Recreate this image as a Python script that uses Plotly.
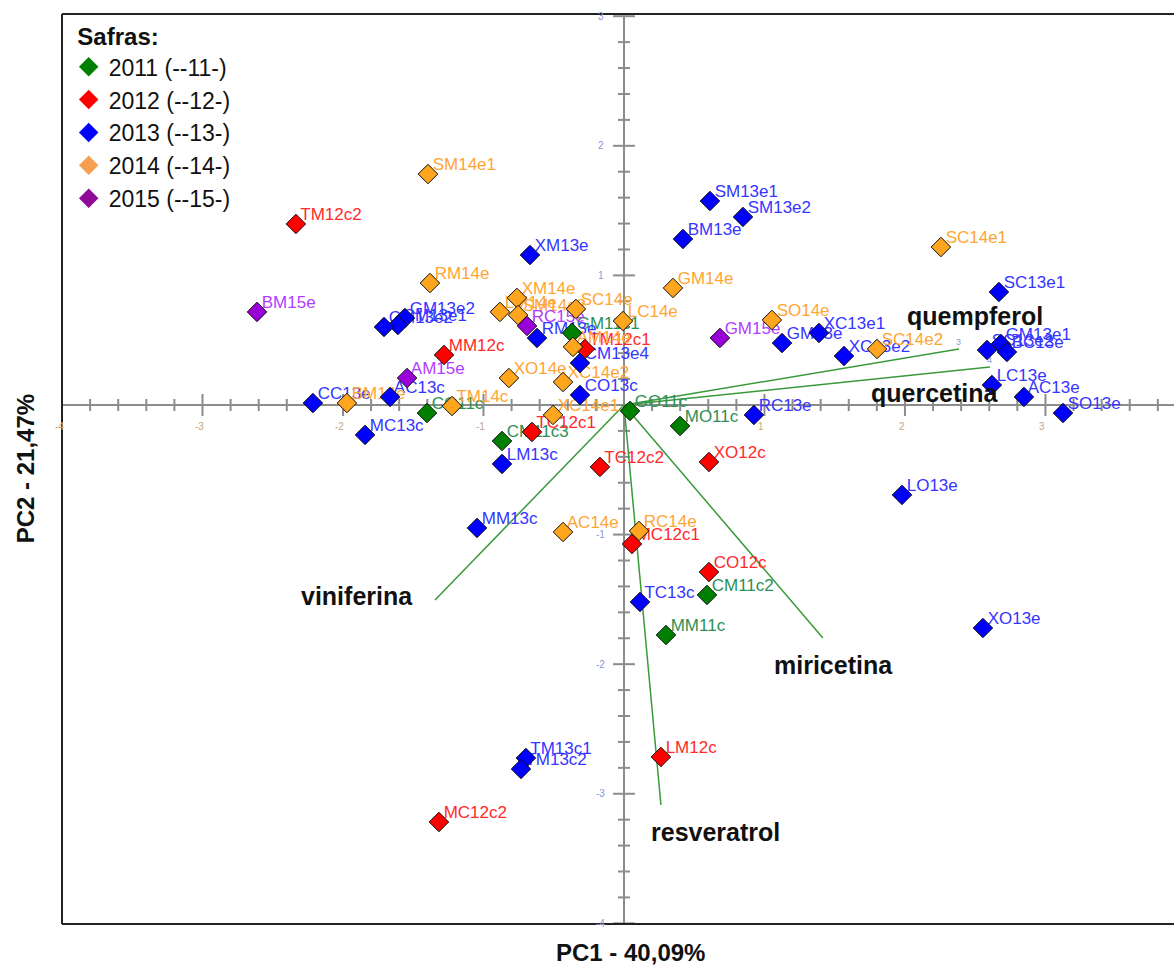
import plotly.graph_objects as go

# ---- PCA scores per vintage ----
names_2011 = ["GM11c1", "CG11c", "CM11c3", "GO11c", "MO11c", "CM11c2", "MM11c"]
pc1_2011 = [-0.370, -1.402, -0.868, 0.043, 0.399, 0.591, 0.299]
pc2_2011 = [0.556, -0.062, -0.278, -0.046, -0.162, -1.466, -1.775]

names_2012 = ["TM12c2", "MM12c", "TM12c1", "TC12c1", "TC12c2", "XO12c",
              "MC12c1", "CO12c", "LM12c", "MC12c2"]
pc1_2012 = [-2.335, -1.281, -0.278, -0.655, -0.171, 0.605, 0.057, 0.605, 0.263, -1.317]
pc2_2012 = [1.397, 0.386, 0.432, -0.208, -0.478, -0.440, -1.073, -1.289, -2.716, -3.218]

names_2013 = ["SM13e1", "SM13e2", "BM13e", "XM13e", "SC13e1", "GM13e2", "CM13e1",
              "CM13e2", "RM13e", "CM13e4", "CO13c", "AC13c", "CC13e", "MC13c",
              "LM13c", "MM13c", "TC13c", "TM13c1", "TM13c2", "RC13e", "GM13e",
              "XC13e1", "XC13e2", "SC13e2", "GM13e1", "BC13e", "LC13e", "AC13e",
              "SO13e", "LO13e", "XO13e"]
pc1_2013 = [0.612, 0.847, 0.420, -0.669, 2.669, -1.559, -1.609, -1.708, -0.619,
            -0.313, -0.313, -1.665, -2.214, -1.843, -0.868, -1.046, 0.114, -0.698,
            -0.733, 0.925, 1.125, 1.388, 1.566, 2.584, 2.683, 2.726, 2.619, 2.847,
            3.125, 1.979, 2.555]
pc2_2013 = [1.574, 1.451, 1.281, 1.157, 0.872, 0.671, 0.617, 0.602, 0.517, 0.324,
            0.077, 0.062, 0.015, -0.231, -0.455, -0.949, -1.520, -2.724, -2.809,
            -0.077, 0.478, 0.556, 0.378, 0.424, 0.471, 0.409, 0.154, 0.062, -0.062,
            -0.694, -1.721]

names_2014 = ["SM14e1", "RM14e", "GM14e", "SC14e1", "XM14e", "LM14e", "SM14e2",
              "SC14e", "LC14e", "SO14e", "SC14e2", "AM14e", "XO14e", "XC14e2",
              "XC14e1", "TM14c", "BM14e", "AC14e", "RC14e"]
pc1_2014 = [-1.395, -1.381, 0.349, 2.256, -0.762, -0.883, -0.754, -0.342, -0.007,
            1.053, 1.801, -0.363, -0.819, -0.434, -0.505, -1.224, -1.972, -0.434, 0.107]
pc2_2014 = [1.782, 0.941, 0.903, 1.219, 0.826, 0.718, 0.694, 0.741, 0.648, 0.656,
            0.432, 0.448, 0.208, 0.177, -0.077, -0.008, 0.015, -0.980, -0.972]

names_2015 = ["BM15e", "RC15e", "GM15e", "AM15e"]
pc1_2015 = [-2.612, -0.690, 0.683, -1.544]
pc2_2015 = [0.718, 0.610, 0.517, 0.208]

series_labels = ["2011 (--11-)", "2012 (--12-)", "2013 (--13-)", "2014 (--14-)", "2015 (--15-)"]

# ---- loadings ----
loading_names = ["quempferol", "quercetina", "viniferina", "miricetina", "resveratrol"]
loading_pc1 = [2.384, 2.605, -1.345, 1.416, 0.263]
loading_pc2 = [0.432, 0.293, -1.505, -1.798, -3.086]
loading_index = ["3", "4", "", "", ""]

# ---- axis ticks ----
x_tick_labels = [-4, -3, -2, -1, 1, 2, 3]
y_tick_labels = [-4, -3, -2, -1, 1, 2, 3]

# ---- styles ----
marker_colors = ["#008000", "#ff0000", "#0000ff", "#ffa51e", "#9a00d8"]
legend_colors = ["#008000", "#ff0000", "#0000ff", "#f5a050", "#8e0a99"]
text_colors = ["#2e8f55", "#ff2a2a", "#3535ff", "#ffa533", "#b03cff"]
label_offsets = [(16, 33, "center"), (-55, -26, "center"), (-20, 4, "right"),
                 (11, -27, "center"), (55, -27, "center")]
FONT = "Liberation Sans, Arial, sans-serif"

groups = [
    (names_2011, pc1_2011, pc2_2011),
    (names_2012, pc1_2012, pc2_2012),
    (names_2013, pc1_2013, pc2_2013),
    (names_2014, pc1_2014, pc2_2014),
    (names_2015, pc1_2015, pc2_2015),
]

fig = go.Figure()

# loading vectors from the origin
for lx, ly in zip(loading_pc1, loading_pc2):
    fig.add_trace(go.Scatter(
        x=[0, lx], y=[0, ly], mode="lines",
        line=dict(color="#3a9a3a", width=1.5),
        showlegend=False, hoverinfo="skip"))

# sample names
for (names, xs, ys), tc in zip(groups, text_colors):
    fig.add_trace(go.Scatter(
        x=xs, y=ys, mode="text", text=[" " + n for n in names],
        textposition="top right",
        textfont=dict(family=FONT, size=17, color=tc),
        showlegend=False, hoverinfo="skip"))

# sample scores
for (names, xs, ys), mc in zip(groups, marker_colors):
    fig.add_trace(go.Scatter(
        x=xs, y=ys, mode="markers", text=names,
        marker=dict(symbol="diamond", size=15, color=mc,
                    line=dict(color="#111111", width=1)),
        showlegend=False))

# legend entries
for lab, lc in zip(series_labels, legend_colors):
    fig.add_trace(go.Scatter(
        x=[None], y=[None], mode="markers", name=lab,
        marker=dict(symbol="diamond", size=15, color=lc, line=dict(width=0))))

shapes = []
# cross-axis tick marks every 0.2, longer at integers
for i in range(-20, 20):
    t = i / 5
    half = 11 if i % 5 == 0 else 6
    shapes.append(dict(type="line", xref="x", yref="y", x0=t, x1=t,
                       ysizemode="pixel", yanchor=0, y0=-half, y1=half,
                       line=dict(color="#8c8c8c", width=2), layer="below"))
for i in range(-20, 16):
    t = i / 5
    half = 11 if i % 5 == 0 else 6
    shapes.append(dict(type="line", xref="x", yref="y", y0=t, y1=t,
                       xsizemode="pixel", xanchor=0, x0=-half, x1=half,
                       line=dict(color="#8c8c8c", width=2), layer="below"))
# frame (left, top, bottom)
for x0, y0, x1, y1 in [(0, 0, 0, 1), (0, 1, 1, 1), (0, 0, 1, 0)]:
    shapes.append(dict(type="line", xref="paper", yref="paper", x0=x0, y0=y0,
                       x1=x1, y1=y1, line=dict(color="#222222", width=2)))

annotations = []
for v in x_tick_labels:
    annotations.append(dict(x=v, y=0, xref="x", yref="y", text=str(v), showarrow=False,
                            yshift=-22, xshift=-3,
                            font=dict(family=FONT, size=10, color="#c8a47e")))
for v in y_tick_labels:
    annotations.append(dict(x=0, y=v, xref="x", yref="y", text=str(v), showarrow=False,
                            xshift=-23,
                            font=dict(family=FONT, size=10, color="#8a98d8")))
for name, lx, ly, idx, (dx, dy, anc) in zip(loading_names, loading_pc1, loading_pc2,
                                            loading_index, label_offsets):
    annotations.append(dict(x=lx, y=ly, xref="x", yref="y", text="<b>%s</b>" % name,
                            showarrow=False, xshift=dx, yshift=dy, xanchor=anc,
                            font=dict(family=FONT, size=25, color="#111111")))
    if idx:
        annotations.append(dict(x=lx, y=ly, xref="x", yref="y", text=idx,
                                showarrow=False, yshift=7,
                                font=dict(family=FONT, size=9, color="#8a98d8")))

annotations.append(dict(x=0.511, y=-0.031, xref="paper", yref="paper",
                        text="<b>PC1 - 40,09%</b>", showarrow=False,
                        xanchor="center", yanchor="middle",
                        font=dict(family=FONT, size=24, color="#111111")))
annotations.append(dict(x=-0.033, y=0.5, xref="paper", yref="paper",
                        text="<b>PC2 - 21,47%</b>", showarrow=False, textangle=-90,
                        xanchor="center", yanchor="middle",
                        font=dict(family=FONT, size=24, color="#111111")))

fig.update_layout(
    width=1174, height=967,
    margin=dict(l=62, r=0, t=14, b=43),
    paper_bgcolor="white", plot_bgcolor="white",
    xaxis=dict(range=[-4.0, 3.915], showgrid=False, showticklabels=False, ticks="",
               zeroline=True, zerolinecolor="#8c8c8c", zerolinewidth=2, showline=False),
    yaxis=dict(range=[-4.005, 3.017], showgrid=False, showticklabels=False, ticks="",
               zeroline=True, zerolinecolor="#8c8c8c", zerolinewidth=2, showline=False),
    shapes=shapes,
    annotations=annotations,
    showlegend=True,
    legend=dict(x=0.006, y=1.0, xanchor="left", yanchor="top",
                bgcolor="rgba(0,0,0,0)", borderwidth=0,
                title=dict(text="\u00a0<b>Safras:</b>",
                           font=dict(family=FONT, size=24, color="#111111")),
                font=dict(family=FONT, size=23, color="#111111"),
                tracegroupgap=0),
    font=dict(family=FONT),
)

fig.write_html("out.html")
